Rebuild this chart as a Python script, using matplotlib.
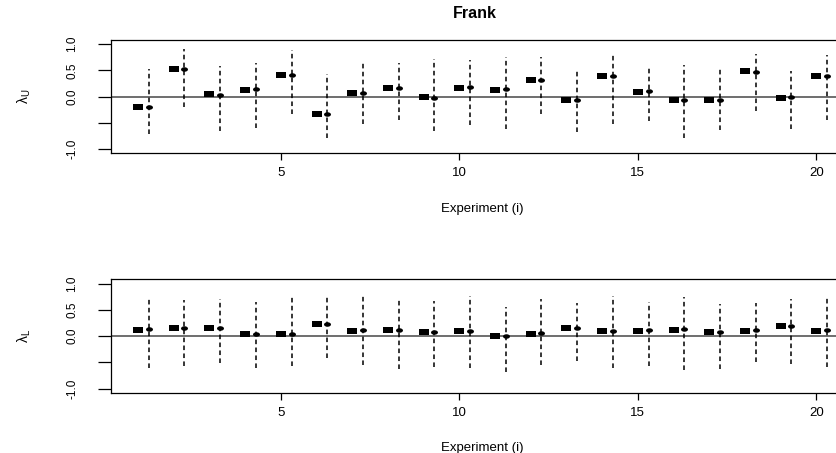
import numpy as np
import matplotlib
matplotlib.use("Agg")
import matplotlib.pyplot as plt
from matplotlib.path import Path

plt.rcParams['font.family'] = ['Liberation Sans', 'DejaVu Sans']
plt.rcParams['mathtext.fontset'] = 'dejavusans'

experiments = list(range(1, 21))

# Upper tail dependence (lambda_U)
upper_true = [-0.19, 0.52, 0.045, 0.13, 0.42, -0.34, 0.076, 0.17, -0.01, 0.17,
              0.13, 0.32, -0.06, 0.39, 0.095, -0.06, -0.06, 0.48, -0.02, 0.39]
upper_est = [-0.19, 0.52, 0.04, 0.15, 0.42, -0.34, 0.07, 0.16, -0.02, 0.18,
             0.14, 0.31, -0.06, 0.39, 0.11, -0.06, -0.06, 0.47, -0.01, 0.40]
upper_lo = [-0.71, -0.20, -0.65, -0.59, -0.33, -0.78, -0.53, -0.45, -0.66, -0.55,
            -0.62, -0.33, -0.67, -0.52, -0.47, -0.78, -0.64, -0.28, -0.61, -0.44]
upper_hi = [0.52, 0.90, 0.59, 0.65, 0.88, 0.44, 0.67, 0.65, 0.72, 0.69,
            0.76, 0.76, 0.52, 0.82, 0.59, 0.61, 0.53, 0.82, 0.48, 0.80]

# Lower tail dependence (lambda_L)
lower_true = [0.12, 0.16, 0.16, 0.03, 0.03, 0.22, 0.10, 0.12, 0.07, 0.10,
              0.005, 0.03, 0.16, 0.10, 0.10, 0.12, 0.07, 0.10, 0.20, 0.10]
lower_est = [0.14, 0.16, 0.15, 0.04, 0.04, 0.22, 0.11, 0.12, 0.07, 0.10,
             0.0, 0.05, 0.16, 0.10, 0.11, 0.13, 0.08, 0.11, 0.19, 0.11]
lower_lo = [-0.60, -0.58, -0.52, -0.60, -0.58, -0.42, -0.56, -0.63, -0.59, -0.60,
            -0.68, -0.55, -0.47, -0.60, -0.58, -0.65, -0.63, -0.49, -0.54, -0.59]
lower_hi = [0.73, 0.68, 0.71, 0.65, 0.76, 0.76, 0.79, 0.70, 0.66, 0.77,
            0.55, 0.70, 0.63, 0.77, 0.65, 0.74, 0.61, 0.63, 0.70, 0.74]

offset = 0.3
xticks = [5, 10, 15, 20]
yticks = [-1.0, -0.5, 0.0, 0.5, 1.0]
ytick_labels = ['-1.0', '', '0.0', '0.5', '1.0']

rect = Path([(-1, -0.5), (1, -0.5), (1, 0.5), (-1, 0.5), (-1, -0.5)],
            [Path.MOVETO, Path.LINETO, Path.LINETO, Path.LINETO, Path.CLOSEPOLY])
t = np.linspace(0, 2 * np.pi, 40)
ell = Path(np.column_stack([np.cos(t), 0.65 * np.sin(t)]))

W, H = 836, 453
fig = plt.figure(figsize=(W / 100, H / 100), dpi=100)

def px_axes(left, right, top, bottom):
    return fig.add_axes([left / W, 1 - bottom / H, (right - left) / W, (bottom - top) / H])

panels = [
    (40, 153.3, upper_true, upper_est, upper_lo, upper_hi, r'$\mathregular{\lambda_U}$', True),
    (279.3, 392.7, lower_true, lower_est, lower_lo, lower_hi, r'$\mathregular{\lambda_L}$', False),
]

x = np.array(experiments, dtype=float)
xmax = x.max() + offset
xmin = x.min()
span = xmax - xmin

for top, bottom, tv, ev, lo, hi, ylab, has_title in panels:
    ax = px_axes(110.5, 854.6, top, bottom)
    ax.set_xlim(xmin - 0.04 * span, xmax + 0.04 * span)
    ax.set_ylim(-1.08, 1.08)
    ax.axhline(0, color='#555555', lw=1.2, zorder=1)
    ax.vlines(x + offset, lo, hi, colors='black', linestyles=(0, (3, 2.2)), lw=1.1, zorder=2)
    ax.plot(x, tv, linestyle='none', marker=rect, markersize=7.4, color='black',
            markeredgewidth=0, zorder=3)
    ax.plot(x + offset, ev, linestyle='none', marker=ell, markersize=5.0, color='black',
            markeredgewidth=0, zorder=3)
    ax.set_xticks(xticks)
    ax.set_xticklabels([str(v) for v in xticks], fontsize=9.5)
    ax.set_yticks(yticks)
    ax.set_yticklabels(ytick_labels, fontsize=8.5, rotation=90, va='center')
    ax.tick_params(axis='x', length=5, width=0.9, pad=5)
    ax.tick_params(axis='y', length=9.4, width=0.9, pad=14)
    ax.set_xlabel('Experiment (i)', fontsize=9.5, labelpad=17)
    ax.set_ylabel(ylab, fontsize=10, labelpad=24)
    for s in ax.spines.values():
        s.set_linewidth(0.9)
    if has_title:
        ax.set_title('Frank', fontsize=11.5, fontweight='bold', pad=16, x=0.49)

fig.savefig('out.png', dpi=100)
